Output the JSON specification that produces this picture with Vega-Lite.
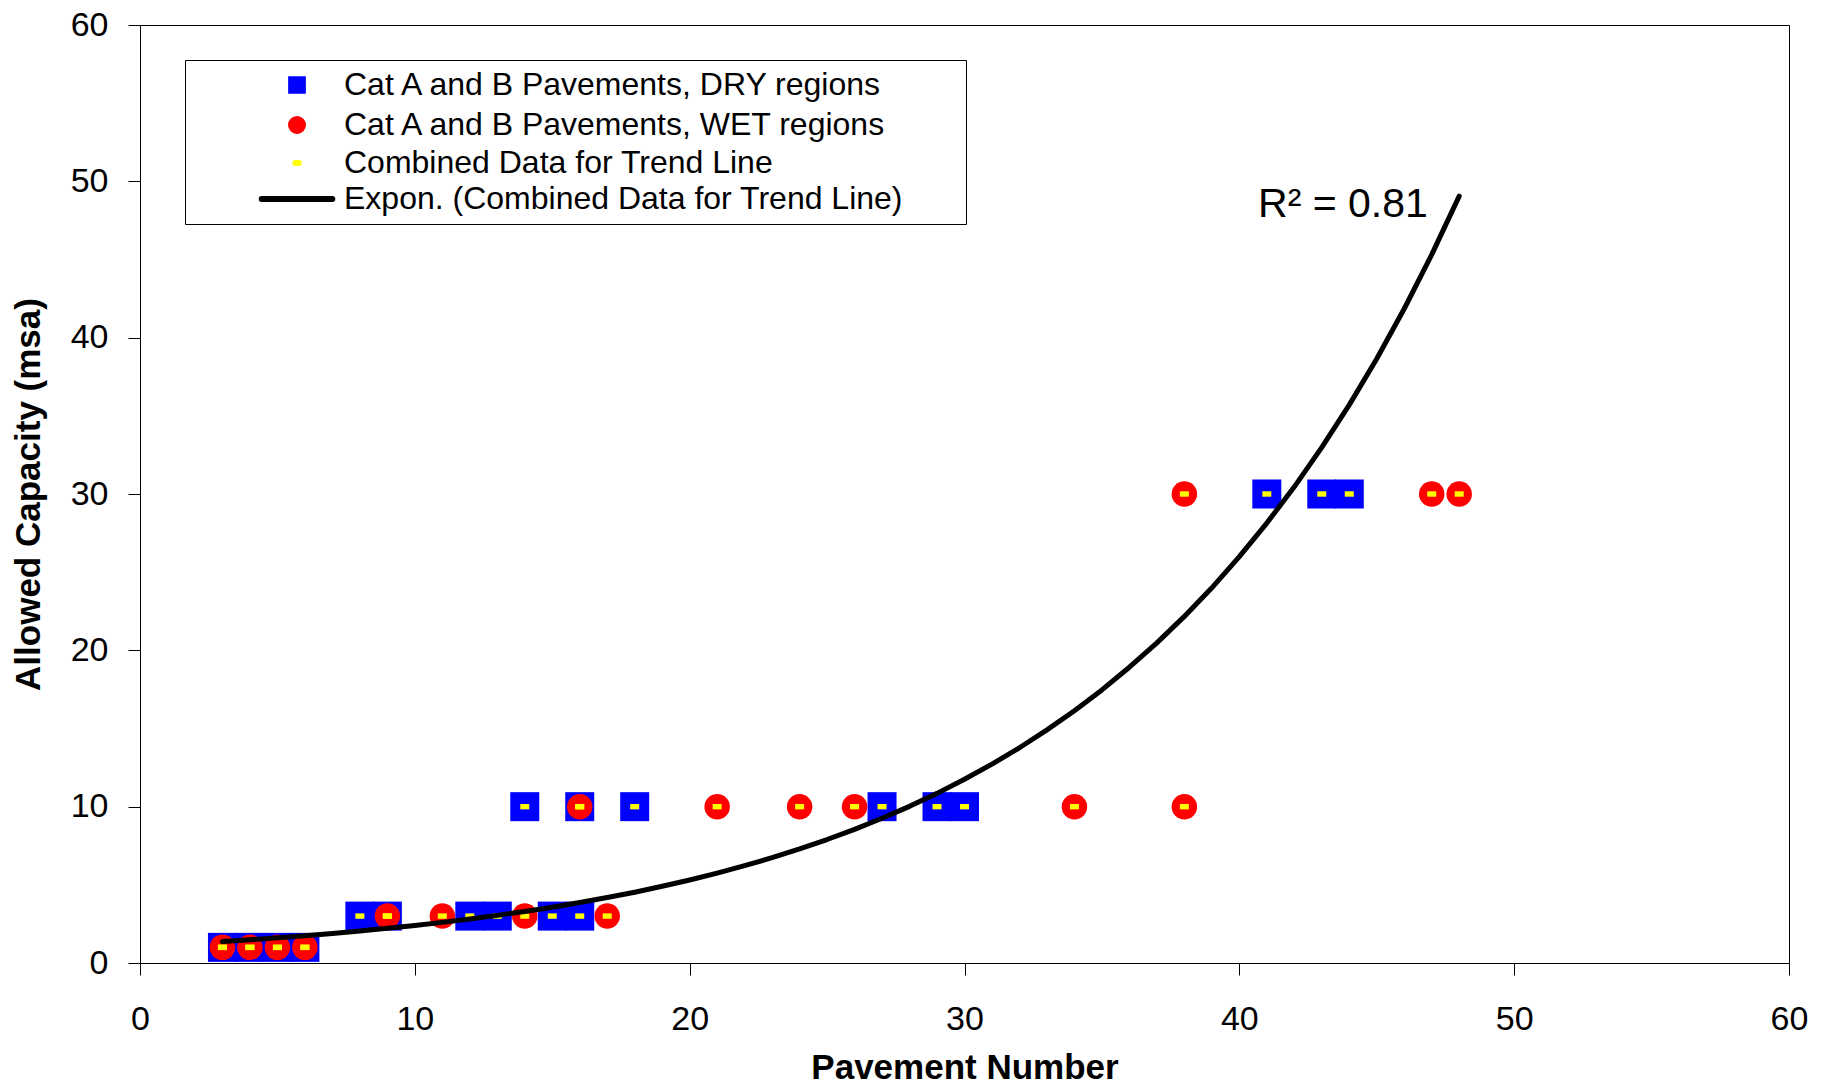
{
  "$schema": "https://vega.github.io/schema/vega-lite/v6.json",
  "width": 1649,
  "height": 938,
  "autosize": {"type": "none"},
  "padding": {"left": 140, "top": 25, "right": 33, "bottom": 123},
  "background": "white",
  "datasets": {
    "points": [
      {"x": 3, "y": 1, "series": "DRY"}, {"x": 4, "y": 1, "series": "DRY"}, {"x": 5, "y": 1, "series": "DRY"}, {"x": 6, "y": 1, "series": "DRY"},
      {"x": 8, "y": 3, "series": "DRY"}, {"x": 9, "y": 3, "series": "DRY"}, {"x": 12, "y": 3, "series": "DRY"}, {"x": 13, "y": 3, "series": "DRY"},
      {"x": 15, "y": 3, "series": "DRY"}, {"x": 16, "y": 3, "series": "DRY"},
      {"x": 14, "y": 10, "series": "DRY"}, {"x": 16, "y": 10, "series": "DRY"}, {"x": 18, "y": 10, "series": "DRY"},
      {"x": 27, "y": 10, "series": "DRY"}, {"x": 29, "y": 10, "series": "DRY"}, {"x": 30, "y": 10, "series": "DRY"},
      {"x": 41, "y": 30, "series": "DRY"}, {"x": 43, "y": 30, "series": "DRY"}, {"x": 44, "y": 30, "series": "DRY"},
      {"x": 3, "y": 1, "series": "WET"}, {"x": 4, "y": 1, "series": "WET"}, {"x": 5, "y": 1, "series": "WET"}, {"x": 6, "y": 1, "series": "WET"},
      {"x": 9, "y": 3, "series": "WET"}, {"x": 11, "y": 3, "series": "WET"}, {"x": 14, "y": 3, "series": "WET"}, {"x": 17, "y": 3, "series": "WET"},
      {"x": 16, "y": 10, "series": "WET"}, {"x": 21, "y": 10, "series": "WET"}, {"x": 24, "y": 10, "series": "WET"},
      {"x": 26, "y": 10, "series": "WET"}, {"x": 34, "y": 10, "series": "WET"}, {"x": 38, "y": 10, "series": "WET"},
      {"x": 38, "y": 30, "series": "WET"}, {"x": 47, "y": 30, "series": "WET"}, {"x": 48, "y": 30, "series": "WET"}
    ],
    "trend": [
      {"x": 3, "y": 1.377}, {"x": 4, "y": 1.491}, {"x": 5, "y": 1.614}, {"x": 6, "y": 1.747}, {"x": 7, "y": 1.892},
      {"x": 8, "y": 2.048}, {"x": 9, "y": 2.217}, {"x": 10, "y": 2.4}, {"x": 11, "y": 2.599}, {"x": 12, "y": 2.813},
      {"x": 13, "y": 3.046}, {"x": 14, "y": 3.298}, {"x": 15, "y": 3.57}, {"x": 16, "y": 3.865}, {"x": 17, "y": 4.185},
      {"x": 18, "y": 4.53}, {"x": 19, "y": 4.905}, {"x": 20, "y": 5.31}, {"x": 21, "y": 5.749}, {"x": 22, "y": 6.224},
      {"x": 23, "y": 6.738}, {"x": 24, "y": 7.295}, {"x": 25, "y": 7.898}, {"x": 26, "y": 8.551}, {"x": 27, "y": 9.257},
      {"x": 28, "y": 10.02}, {"x": 29, "y": 10.85}, {"x": 30, "y": 11.75}, {"x": 31, "y": 12.72}, {"x": 32, "y": 13.77},
      {"x": 33, "y": 14.91}, {"x": 34, "y": 16.14}, {"x": 35, "y": 17.47}, {"x": 36, "y": 18.92}, {"x": 37, "y": 20.48},
      {"x": 38, "y": 22.17}, {"x": 39, "y": 24.0}, {"x": 40, "y": 25.99}, {"x": 41, "y": 28.14}, {"x": 42, "y": 30.46},
      {"x": 43, "y": 32.98}, {"x": 44, "y": 35.7}, {"x": 45, "y": 38.65}, {"x": 46, "y": 41.85}, {"x": 47, "y": 45.31},
      {"x": 48, "y": 49.05}
    ],
    "note": [{"label": "R² = 0.81", "x": 46.86, "y": 47.74}]
  },
  "encoding": {
    "x": {
      "field": "x", "type": "quantitative",
      "scale": {"domain": [0, 60], "nice": false, "zero": true},
      "axis": {"title": "Pavement Number", "values": [0, 10, 20, 30, 40, 50, 60], "labelPadding": 27, "titlePadding": 14, "titleFontSize": 35}
    },
    "y": {
      "field": "y", "type": "quantitative",
      "scale": {"domain": [0, 60], "nice": false, "zero": true},
      "axis": {"title": "Allowed Capacity (msa)", "values": [0, 10, 20, 30, 40, 50, 60], "labelPadding": 20, "titlePadding": 24, "titleFontSize": 35}
    }
  },
  "layer": [
    {
      "data": {"name": "points"},
      "transform": [{"filter": "datum.series === 'DRY'"}],
      "mark": {"type": "point", "shape": "square", "filled": true, "size": 841, "opacity": 1, "strokeWidth": 0},
      "encoding": {
        "color": {
          "datum": "Cat A and B Pavements, DRY regions",
          "scale": {
            "domain": ["Cat A and B Pavements, DRY regions", "Cat A and B Pavements, WET regions", "Combined Data for Trend Line", "Expon. (Combined Data for Trend Line)"],
            "range": ["#0000FF", "#FF0000", "#FFFF00", "#000000"]
          },
          "legend": {
            "title": null, "orient": "none", "legendX": 45, "legendY": 35, "padding": 9, "rowPadding": 4,
            "strokeColor": "black", "fillColor": "white",
            "labelFont": "Liberation Sans", "labelFontSize": 32, "labelColor": "black", "labelLimit": 1200,
            "symbolSize": 100, "symbolStrokeWidth": 6, "symbolOffset": 87, "labelOffset": 31,
            "labelExpr": "datum.label + (datum.label === 'Expon. (Combined Data for Trend Line)' ? '\u00a0\u00a0\u00a0\u00a0\u00a0\u00a0\u200b' : '')",
            "encode": {"symbols": {"update": {
              "shape": [
                {"test": "datum.value === 'Cat A and B Pavements, DRY regions'", "value": "M-1.17,-1.17H1.17V1.17H-1.17Z"},
                {"test": "datum.value === 'Cat A and B Pavements, WET regions'", "value": "M1.2,0A1.2,1.2 0 1,1 -1.2,0A1.2,1.2 0 1,1 1.2,0Z"},
                {"test": "datum.value === 'Combined Data for Trend Line'", "value": "M-0.33,0H0.33"},
                {"value": "M-7.06,0H7.06"}
              ],
              "fill": {"scale": "color", "field": "value"},
              "stroke": {"scale": "color", "field": "value"},
              "strokeWidth": {"value": 6},
              "strokeCap": {"value": "round"},
              "size": {"value": 100},
              "opacity": {"value": 1}
            }}}
          }
        }
      }
    },
    {
      "data": {"name": "points"},
      "transform": [{"filter": "datum.series === 'WET'"}],
      "mark": {"type": "point", "shape": "circle", "filled": true, "size": 650, "opacity": 1, "strokeWidth": 0},
      "encoding": {
        "color": {
          "datum": "Cat A and B Pavements, WET regions",
          "legend": {
            "title": null, "orient": "none", "legendX": 45, "legendY": 35, "padding": 9, "rowPadding": 4,
            "strokeColor": "black", "fillColor": "white",
            "labelFont": "Liberation Sans", "labelFontSize": 32, "labelColor": "black", "labelLimit": 1200,
            "symbolSize": 100, "symbolStrokeWidth": 6, "symbolOffset": 87, "labelOffset": 31,
            "labelExpr": "datum.label + (datum.label === 'Expon. (Combined Data for Trend Line)' ? '\u00a0\u00a0\u00a0\u00a0\u00a0\u00a0\u200b' : '')",
            "encode": {"symbols": {"update": {
              "shape": [
                {"test": "datum.value === 'Cat A and B Pavements, DRY regions'", "value": "M-1.17,-1.17H1.17V1.17H-1.17Z"},
                {"test": "datum.value === 'Cat A and B Pavements, WET regions'", "value": "M1.2,0A1.2,1.2 0 1,1 -1.2,0A1.2,1.2 0 1,1 1.2,0Z"},
                {"test": "datum.value === 'Combined Data for Trend Line'", "value": "M-0.33,0H0.33"},
                {"value": "M-7.06,0H7.06"}
              ],
              "fill": {"scale": "color", "field": "value"},
              "stroke": {"scale": "color", "field": "value"},
              "strokeWidth": {"value": 6},
              "strokeCap": {"value": "round"},
              "size": {"value": 100},
              "opacity": {"value": 1}
            }}}
          }
        }
      }
    },
    {
      "data": {"name": "points"},
      "mark": {"type": "point", "shape": "M-1,-0.6H1V0.6H-1Z", "filled": true, "size": 81, "opacity": 1, "strokeWidth": 0},
      "encoding": {
        "color": {
          "datum": "Combined Data for Trend Line",
          "legend": {
            "title": null, "orient": "none", "legendX": 45, "legendY": 35, "padding": 9, "rowPadding": 4,
            "strokeColor": "black", "fillColor": "white",
            "labelFont": "Liberation Sans", "labelFontSize": 32, "labelColor": "black", "labelLimit": 1200,
            "symbolSize": 100, "symbolStrokeWidth": 6, "symbolOffset": 87, "labelOffset": 31,
            "labelExpr": "datum.label + (datum.label === 'Expon. (Combined Data for Trend Line)' ? '\u00a0\u00a0\u00a0\u00a0\u00a0\u00a0\u200b' : '')",
            "encode": {"symbols": {"update": {
              "shape": [
                {"test": "datum.value === 'Cat A and B Pavements, DRY regions'", "value": "M-1.17,-1.17H1.17V1.17H-1.17Z"},
                {"test": "datum.value === 'Cat A and B Pavements, WET regions'", "value": "M1.2,0A1.2,1.2 0 1,1 -1.2,0A1.2,1.2 0 1,1 1.2,0Z"},
                {"test": "datum.value === 'Combined Data for Trend Line'", "value": "M-0.33,0H0.33"},
                {"value": "M-7.06,0H7.06"}
              ],
              "fill": {"scale": "color", "field": "value"},
              "stroke": {"scale": "color", "field": "value"},
              "strokeWidth": {"value": 6},
              "strokeCap": {"value": "round"},
              "size": {"value": 100},
              "opacity": {"value": 1}
            }}}
          }
        }
      }
    },
    {
      "data": {"name": "trend"},
      "mark": {"type": "line", "strokeWidth": 5, "strokeJoin": "round", "strokeCap": "round"},
      "encoding": {
        "color": {
          "datum": "Expon. (Combined Data for Trend Line)",
          "legend": {
            "title": null, "orient": "none", "legendX": 45, "legendY": 35, "padding": 9, "rowPadding": 4,
            "strokeColor": "black", "fillColor": "white",
            "labelFont": "Liberation Sans", "labelFontSize": 32, "labelColor": "black", "labelLimit": 1200,
            "symbolSize": 100, "symbolStrokeWidth": 6, "symbolOffset": 87, "labelOffset": 31,
            "labelExpr": "datum.label + (datum.label === 'Expon. (Combined Data for Trend Line)' ? '\u00a0\u00a0\u00a0\u00a0\u00a0\u00a0\u200b' : '')",
            "encode": {"symbols": {"update": {
              "shape": [
                {"test": "datum.value === 'Cat A and B Pavements, DRY regions'", "value": "M-1.17,-1.17H1.17V1.17H-1.17Z"},
                {"test": "datum.value === 'Cat A and B Pavements, WET regions'", "value": "M1.2,0A1.2,1.2 0 1,1 -1.2,0A1.2,1.2 0 1,1 1.2,0Z"},
                {"test": "datum.value === 'Combined Data for Trend Line'", "value": "M-0.33,0H0.33"},
                {"value": "M-7.06,0H7.06"}
              ],
              "fill": {"scale": "color", "field": "value"},
              "stroke": {"scale": "color", "field": "value"},
              "strokeWidth": {"value": 6},
              "strokeCap": {"value": "round"},
              "size": {"value": 100},
              "opacity": {"value": 1}
            }}}
          }
        }
      }
    },
    {
      "data": {"name": "note"},
      "mark": {"type": "text", "align": "right", "baseline": "alphabetic", "fontSize": 41, "font": "Liberation Sans", "fill": "black"},
      "encoding": {
        "x": {"field": "x", "type": "quantitative"},
        "y": {"field": "y", "type": "quantitative"},
        "text": {"field": "label", "type": "nominal"}
      }
    }
  ],
  "config": {
    "view": {"stroke": "black", "strokeWidth": 1},
    "axis": {
      "grid": false,
      "domainColor": "black",
      "domainWidth": 1,
      "tickColor": "black",
      "tickWidth": 1,
      "tickSize": 12,
      "labelFont": "Liberation Sans",
      "labelFontSize": 34,
      "labelColor": "black",
      "labelFlush": false,
      "labelOverlap": false,
      "titleFont": "Liberation Sans",
      "titleFontWeight": "bold",
      "titleColor": "black"
    }
  }
}
